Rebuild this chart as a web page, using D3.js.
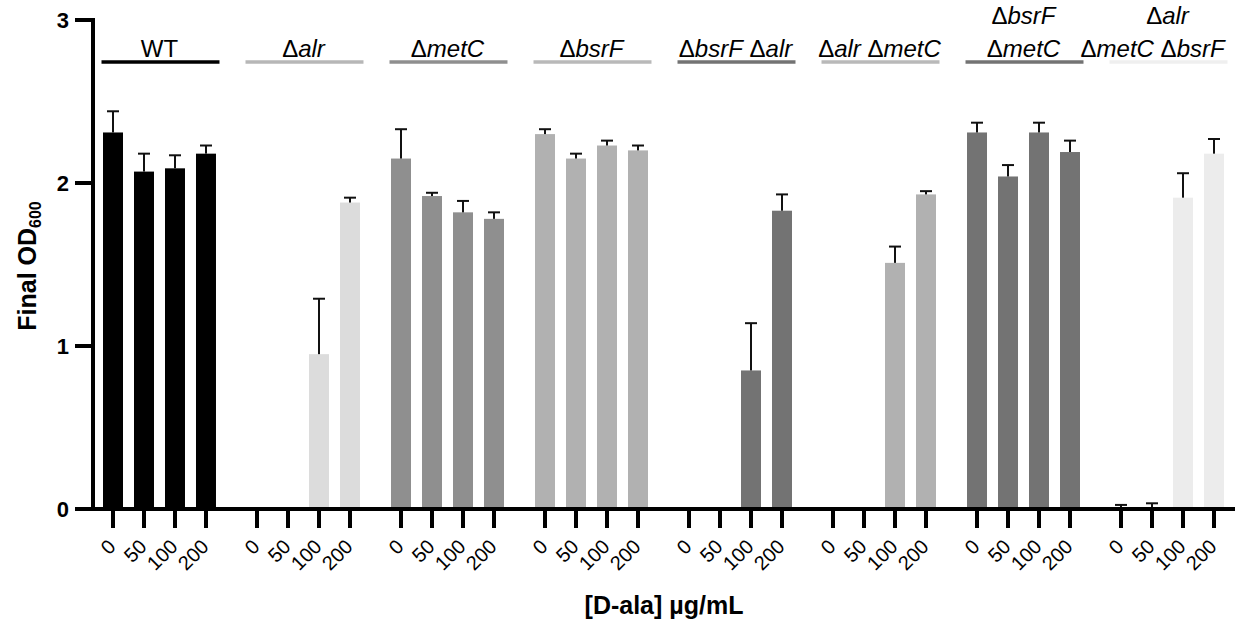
<!DOCTYPE html>
<html>
<head>
<meta charset="utf-8">
<script src="https://cdn.jsdelivr.net/npm/d3@7"></script>
<style>
	body { margin: 0; background: #fff; }
	svg { display: block; font-family: "Liberation Sans", Arial, sans-serif; }
	.y-tick-label { font-weight: bold; font-size: 22px; }
	.x-tick-label { font-size: 20px; }
	.axis-title { font-weight: bold; font-size: 25px; }
	.group-label { font-size: 24px; }
</style>
</head>
<body>
<div id="chart"></div>
<script>
// strains, one label line per entry (words starting with a delta get an italic gene name)
var strainLabels = [
	['WT'],
	['Δalr'],
	['ΔmetC'],
	['ΔbsrF'],
	['ΔbsrF Δalr'],
	['Δalr ΔmetC'],
	['ΔbsrF', 'ΔmetC'],
	['Δalr', 'ΔmetC ΔbsrF']
];
var doses = ['0', '50', '100', '200'];
var yTicks = [0, 1, 2, 3];

// final OD600, mean for each dose
var wtOD = [2.31, 2.07, 2.09, 2.18];
var alrOD = [0, 0, 0.95, 1.88];
var metCOD = [2.15, 1.92, 1.82, 1.78];
var bsrFOD = [2.30, 2.15, 2.23, 2.20];
var bsrFalrOD = [0, 0, 0.85, 1.83];
var alrMetCOD = [0, 0, 1.51, 1.93];
var bsrFmetCOD = [2.31, 2.04, 2.31, 2.19];
var tripleOD = [0, 0, 1.91, 2.18];

// standard deviation (upper bar only)
var wtSD = [0.13, 0.11, 0.08, 0.05];
var alrSD = [0, 0, 0.34, 0.03];
var metCSD = [0.18, 0.02, 0.07, 0.04];
var bsrFSD = [0.03, 0.03, 0.03, 0.03];
var bsrFalrSD = [0, 0, 0.29, 0.10];
var alrMetCSD = [0, 0, 0.10, 0.02];
var bsrFmetCSD = [0.06, 0.07, 0.06, 0.07];
var tripleSD = [0.025, 0.035, 0.15, 0.09];

var means = [wtOD, alrOD, metCOD, bsrFOD, bsrFalrOD, alrMetCOD, bsrFmetCOD, tripleOD];
var errors = [wtSD, alrSD, metCSD, bsrFSD, bsrFalrSD, alrMetCSD, bsrFmetCSD, tripleSD];

// fill colours of the bars and of the header lines, one per strain
var barColors = ['#000000', '#dcdcdc', '#8f8f8f', '#b1b1b1', '#737373', '#b1b1b1', '#737373', '#ececec'];
var lineColors = ['#000000', '#b7b7b7', '#8f8f8f', '#b9b9b9', '#737373', '#b9b9b9', '#737373', '#efefef'];

var width = 1252, height = 622;

var svg = d3.select('#chart')
	.append('svg')
	.attr('width', width)
	.attr('height', height);

var groupIds = d3.range(strainLabels.length);

var x0 = d3.scaleBand()
	.domain(groupIds)
	.range([97.5, 1229.5])
	.paddingInner(0.139)
	.paddingOuter(0);

var x1 = d3.scaleBand()
	.domain(doses)
	.range([0, x0.bandwidth()])
	.paddingInner(0.355)
	.paddingOuter(0.1775);

var y = d3.scaleLinear()
	.domain([0, 3])
	.range([509, 20]);

// bars
var groups = svg.selectAll('g.strain')
	.data(groupIds)
	.enter()
	.append('g')
	.attr('class', 'strain')
	.attr('transform', function(g) { return 'translate(' + x0(g) + ',0)'; });

groups.selectAll('rect')
	.data(function(g) {
		return doses.map(function(d, i) { return {g: g, dose: d, v: means[g][i], e: errors[g][i]}; });
	})
	.enter()
	.append('rect')
	.filter(function(d) { return d.v > 0; })
	.attr('x', function(d) { return x1(d.dose); })
	.attr('y', function(d) { return y(d.v); })
	.attr('width', x1.bandwidth())
	.attr('height', function(d) { return y(0) - y(d.v); })
	.attr('fill', function(d) { return barColors[d.g]; });

// error bars, upper half only
var errs = groups.selectAll('g.err')
	.data(function(g) {
		return doses.map(function(d, i) { return {g: g, dose: d, v: means[g][i], e: errors[g][i]}; })
			.filter(function(d) { return d.e > 0; });
	})
	.enter()
	.append('g')
	.attr('class', 'err')
	.attr('stroke', '#111')
	.attr('stroke-width', 2);
errs.append('line')
	.attr('x1', function(d) { return x1(d.dose) + x1.bandwidth() / 2; })
	.attr('x2', function(d) { return x1(d.dose) + x1.bandwidth() / 2; })
	.attr('y1', function(d) { return y(d.v); })
	.attr('y2', function(d) { return y(d.v + d.e); });
errs.append('line')
	.attr('x1', function(d) { return x1(d.dose) + x1.bandwidth() / 2 - 6; })
	.attr('x2', function(d) { return x1(d.dose) + x1.bandwidth() / 2 + 6; })
	.attr('y1', function(d) { return y(d.v + d.e); })
	.attr('y2', function(d) { return y(d.v + d.e); });

// y axis
svg.append('line')
	.attr('x1', 93).attr('x2', 93)
	.attr('y1', y(3) - 2).attr('y2', y(0) + 2)
	.attr('stroke', '#000').attr('stroke-width', 4);
svg.selectAll('.y-tick')
	.data(yTicks)
	.enter()
	.append('line')
	.attr('x1', 75).attr('x2', 93)
	.attr('y1', function(d) { return y(d); })
	.attr('y2', function(d) { return y(d); })
	.attr('stroke', '#000').attr('stroke-width', 4);
svg.selectAll('.y-tick-label')
	.data(yTicks)
	.enter()
	.append('text')
	.attr('class', 'y-tick-label')
	.attr('x', 69)
	.attr('y', function(d) { return y(d); })
	.attr('dy', '0.36em')
	.attr('text-anchor', 'end')
	.text(function(d) { return d; });

// x axis
svg.append('line')
	.attr('x1', 91).attr('x2', 1235)
	.attr('y1', y(0)).attr('y2', y(0))
	.attr('stroke', '#000').attr('stroke-width', 4);

var ticks = [];
groupIds.forEach(function(g) {
	doses.forEach(function(d) { ticks.push({g: g, dose: d, x: x0(g) + x1(d) + x1.bandwidth() / 2}); });
});
svg.selectAll('.x-tick')
	.data(ticks)
	.enter()
	.append('line')
	.attr('x1', function(d) { return d.x; })
	.attr('x2', function(d) { return d.x; })
	.attr('y1', y(0))
	.attr('y2', y(0) + 19)
	.attr('stroke', '#000').attr('stroke-width', 4);
svg.selectAll('.x-tick-label')
	.data(ticks)
	.enter()
	.append('text')
	.attr('class', 'x-tick-label')
	.attr('text-anchor', 'end')
	.attr('transform', function(d) { return 'translate(' + (d.x - 1) + ',' + 543 + ') rotate(-45)'; })
	.attr('dy', '0.35em')
	.text(function(d) { return d.dose; });

// strain headers
var rightLimit = 1226;
groupIds.forEach(function(g) {
	var cx = x0(g) + x0.bandwidth() / 2;
	svg.append('line')
		.attr('x1', x0(g) + 4)
		.attr('x2', x0(g) + x0.bandwidth() - 2)
		.attr('y1', 62).attr('y2', 62)
		.attr('stroke', lineColors[g])
		.attr('stroke-width', 3.5);
	var lines = strainLabels[g];
	lines.forEach(function(line, li) {
		var text = svg.append('text')
			.attr('class', 'group-label')
			.attr('x', cx)
			.attr('y', 57 - (lines.length - 1 - li) * 33)
			.attr('text-anchor', 'middle');
		line.split(' ').forEach(function(word, wi) {
			var prefix = wi > 0 ? ' ' : '';
			if (word.charAt(0) === 'Δ') {
				text.append('tspan').text(prefix + 'Δ');
				text.append('tspan').attr('font-style', 'italic').text(word.slice(1));
			} else {
				text.append('tspan').text(prefix + word);
			}
		});
		// keep long labels inside the right edge of the plot
		var box = text.node().getBBox();
		if (box.x + box.width > rightLimit) {
			text.attr('x', cx - (box.x + box.width - rightLimit));
		}
	});
});

// axis titles
svg.append('text')
	.attr('class', 'axis-title')
	.attr('x', 664)
	.attr('y', 614)
	.attr('text-anchor', 'middle')
	.text('[D-ala] µg/mL');

var yTitle = svg.append('text')
	.attr('class', 'axis-title')
	.attr('text-anchor', 'middle')
	.attr('transform', 'translate(36,266) rotate(-90)');
yTitle.append('tspan').text('Final OD');
yTitle.append('tspan').attr('font-size', '16px').attr('dy', '0.3em').text('600');
</script>
</body>
</html>
